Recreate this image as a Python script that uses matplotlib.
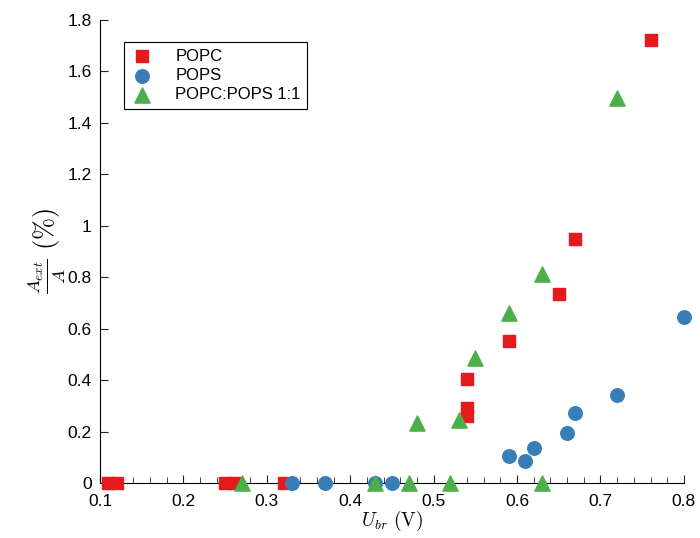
import numpy as np
import matplotlib.pyplot as plt

plt.rcParams['font.family'] = ['Liberation Sans', 'DejaVu Sans']
plt.rcParams['mathtext.fontset'] = 'cm'

# Data
popc_x = [0.11, 0.12, 0.25, 0.26, 0.32, 0.54, 0.54, 0.54, 0.59, 0.65, 0.67, 0.76]
popc_y = [0, 0, 0, 0, 0, 0.26, 0.29, 0.405, 0.553, 0.733, 0.948, 1.72]

pops_x = [0.33, 0.37, 0.43, 0.45, 0.59, 0.61, 0.62, 0.66, 0.67, 0.72, 0.80]
pops_y = [0, 0, 0, 0, 0.106, 0.085, 0.137, 0.196, 0.274, 0.342, 0.647]

mix_x = [0.27, 0.43, 0.47, 0.48, 0.52, 0.53, 0.55, 0.59, 0.63, 0.63, 0.72]
mix_y = [0, 0, 0, 0.232, 0, 0.245, 0.485, 0.66, 0.813, 0, 1.497]

x_ticks = [0.1, 0.2, 0.3, 0.4, 0.5, 0.6, 0.7, 0.8]
x_minor = np.arange(0.1, 0.801, 0.02)
y_ticks = [0, 0.2, 0.4, 0.6, 0.8, 1.0, 1.2, 1.4, 1.6, 1.8]
y_labels = ['0', '0.2', '0.4', '0.6', '0.8', '1', '1.2', '1.4', '1.6', '1.8']

fig = plt.figure(figsize=(7, 5.38), dpi=100)
ax = fig.add_axes([0.143, 0.102, 0.834, 0.861])

ax.scatter(popc_x, popc_y, marker='s', s=80, color='#e41a1c', label='POPC',
           zorder=3, clip_on=False)
ax.scatter(pops_x, pops_y, marker='o', s=95, color='#377eb8', label='POPS',
           zorder=3, clip_on=False)
ax.scatter(mix_x, mix_y, marker='^', s=120, color='#4daf4a', label='POPC:POPS 1:1',
           zorder=3, clip_on=False)

ax.set_xlim(0.1, 0.8)
ax.set_ylim(0, 1.8)
ax.set_xticks(x_ticks)
ax.set_xticklabels([f'{v:.1f}' for v in x_ticks])
ax.set_xticks(x_minor, minor=True)
ax.set_yticks(y_ticks)
ax.set_yticklabels(y_labels)

ax.spines['top'].set_visible(False)
ax.spines['right'].set_visible(False)
ax.tick_params(which='both', direction='in', labelsize=12.5, color='#222222')
ax.tick_params(which='major', length=6)
ax.tick_params(which='minor', length=4)
ax.tick_params(axis='x', pad=8)
ax.tick_params(axis='y', pad=6)

ax.set_xlabel(r'$U_{br}\ (\mathrm{V})$', fontsize=14, labelpad=0)
ax.set_ylabel(r'$\frac{A_{ext}}{A}\ (\%)$', fontsize=19, labelpad=0)

leg = ax.legend(loc='upper left', bbox_to_anchor=(0.026, 0.97), fontsize=12,
                fancybox=False, edgecolor='black', framealpha=1,
                handlelength=1.4, handletextpad=1.3, borderpad=0.4,
                labelspacing=0.25, scatterpoints=1)
leg.get_frame().set_linewidth(0.8)

plt.savefig('out.png', dpi=100)
